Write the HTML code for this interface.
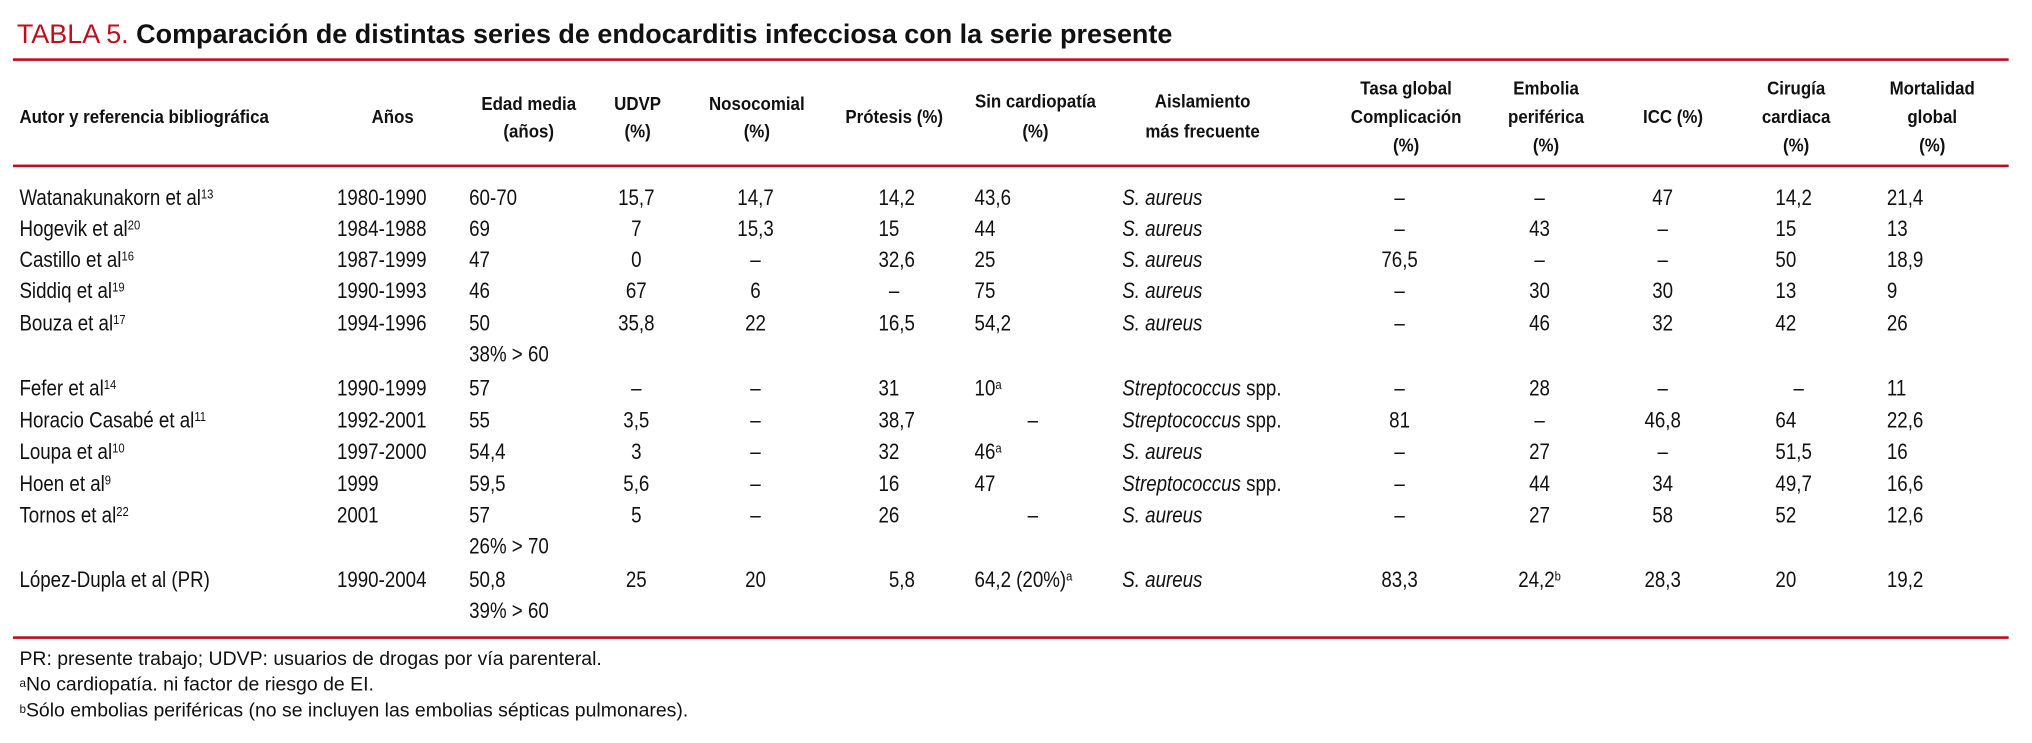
<!DOCTYPE html>
<html><head><meta charset="utf-8">
<style>
html,body{margin:0;padding:0;background:#fff;}
body{width:2032px;height:743px;overflow:hidden;position:relative;}
#stage{position:absolute;left:0;top:0;width:1568px;height:573px;transform:scale(1.29592);transform-origin:0 0;font-family:"Liberation Sans",sans-serif;color:#111;}
.c{position:absolute;white-space:nowrap;line-height:20px;height:20px;}
.c span.t{display:inline-block;}
.al span.t{transform-origin:0 50%;transform:scaleX(.85);}
.ac{transform:translateX(-50%);}
.ac span.t{transform-origin:50% 50%;transform:scaleX(.85);}
.ar{transform:translateX(-100%);}
.ar span.t{transform-origin:100% 50%;transform:scaleX(.85);}
.d{font-size:17px;}
.h{font-size:14px;font-weight:bold;}
.c.h span.t{transform:scaleX(.93);}
.f{font-size:15px;}
.c.f span.t{transform:scaleX(1);}
sup{font-size:60%;vertical-align:top;position:relative;top:-2px;}
.rule{position:absolute;left:10px;width:1540px;height:2.4px;background:#c00d1e;}
#title{position:absolute;left:13px;top:14px;font-size:21px;white-space:nowrap;transform-origin:0 0;transform:scaleX(.99);line-height:26px;}
#title .red{color:#c00d1e;}
#title b{color:#111;}
.hid{visibility:hidden;}
</style></head>
<body>
<div id="stage">
  <div id="title"><span class="red">TABLA 5.</span> <b>Comparación de distintas series de endocarditis infecciosa con la serie presente</b></div>
  <div class="rule" style="top:45px"></div>
  <div class="rule" style="top:127px"></div>
  <div class="rule" style="top:491px"></div>
</div>
<script>
const stage=document.getElementById('stage');
function place(html,x,y,align,cls,name){
  const d=document.createElement('div');
  d.className='c '+cls+' '+align;
  d.style.left=x+'px';
  d.style.top=(y-10)+'px';
  d.innerHTML='<span class="t">'+html+'</span>';
  
  
  stage.appendChild(d);
  return d;
}
const headers=[
 [["Autor y referencia bibliográfica"],15,'al',[90]],
 [["Años"],303,'ac',[90]],
 [["Edad media","(años)"],408,'ac',[80,101]],
 [["UDVP","(%)"],492,'ac',[80,101]],
 [["Nosocomial","(%)"],584,'ac',[80,101]],
 [["Prótesis (%)"],690,'ac',[90]],
 [["Sin cardiopatía","(%)"],799,'ac',[78,101]],
 [["Aislamiento","más frecuente"],928,'ac',[78,101]],
 [["Tasa global","Complicación","(%)"],1085,'ac',[68,90,112]],
 [["Embolia","periférica","(%)"],1193,'ac',[68,90,112]],
 [["ICC (%)"],1291,'ac',[90]],
 [["Cirugía","cardiaca","(%)"],1386,'ac',[68,90,112]],
 [["Mortalidad","global","(%)"],1491,'ac',[68,90,112]]
];
headers.forEach((h,i)=>{h[0].forEach((ln,j)=>{
  place(ln,h[1],h[3][j],h[2],'h','column-header-'+i+'-line-'+j);
});});

const authors=["Watanakunakorn et al","Hogevik et al","Castillo et al","Siddiq et al","Bouza et al","Fefer et al","Horacio Casabé et al","Loupa et al","Hoen et al","Tornos et al","López-Dupla et al (PR)"];
const refs=["13","20","16","19","17","14","11","10","9","22",""];
const years=["1980-1990","1984-1988","1987-1999","1990-1993","1994-1996","1990-1999","1992-2001","1997-2000","1999","2001","1990-2004"];
const ages=["60-70","69","47","46","50","57","55","54,4","59,5","57","50,8"];
const ageExtra=["","","","","38% > 60","","","","","26% > 70","39% > 60"];
const udvp=["15,7","7","0","67","35,8","–","3,5","3","5,6","5","25"];
const noso=["14,7","15,3","–","6","22","–","–","–","–","–","20"];
const protesis=["14,2","15","32,6","–","16,5","31","38,7","32","16","26","5,8"];
const sincard=["43,6","44","25","75","54,2","10^a","–","46^a","47","–","64,2 (20%)^a"];
const aisl=["S. aureus","S. aureus","S. aureus","S. aureus","S. aureus","Streptococcus spp.","Streptococcus spp.","S. aureus","Streptococcus spp.","S. aureus","S. aureus"];
const tasa=["–","–","76,5","–","–","–","81","–","–","–","83,3"];
const embolia=["–","43","–","30","46","28","–","27","44","27","24,2^b"];
const icc=["47","–","–","30","32","–","46,8","–","34","58","28,3"];
const cirugia=["14,2","15","50","13","42","–","64","51,5","49,7","52","20"];
const mort=["21,4","13","18,9","9","26","11","22,6","16","16,6","12,6","19,2"];
const rowY=[153,177,201,225,250,300,325,349,374,398,448];
const extraY=[0,0,0,0,274,0,0,0,0,422,472];

function sup(s){return s.replace(/\^([ab])/,'<sup>$1</sup>');}
function org(s){
  if(s.indexOf('Streptococcus')===0) return '<i>Streptococcus</i> spp.';
  return '<i>'+s+'</i>';
}
for(let r=0;r<authors.length;r++){
  const y=rowY[r];
  place(authors[r]+(refs[r]?'<sup>'+refs[r]+'</sup>':''),15,y,'al','d','author-'+r);
  place(years[r],260,y,'al','d','years-'+r);
  place(ages[r],362,y,'al','d','age-'+r);
  if(ageExtra[r]) place(ageExtra[r],362,extraY[r],'al','d','age-note-'+r);
  place(udvp[r],491,y,'ac','d','udvp-'+r);
  place(noso[r],583,y,'ac','d','nosocomial-'+r);
  const p=protesis[r];
  place(p+(p.indexOf(',')<0?'<span class="hid">,0</span>':''),706,y,'ar','d','protesis-'+r);
  if(sincard[r]==='–') place('–',797,y,'ac','d','sin-cardiopatia-'+r);
  else place(sup(sincard[r]),752,y,'al','d','sin-cardiopatia-'+r);
  place(org(aisl[r]),866,y,'al','d','organism-'+r);
  place(tasa[r],1080,y,'ac','d','complication-rate-'+r);
  place(sup(embolia[r]),1188,y,'ac','d','embolism-'+r);
  place(icc[r],1283,y,'ac','d','icc-'+r);
  if(cirugia[r]==='–') place('–',1388,y,'ac','d','surgery-'+r);
  else place(cirugia[r],1370,y,'al','d','surgery-'+r);
  place(mort[r],1456,y,'al','d','mortality-'+r);
}
place('PR: presente trabajo; UDVP: usuarios de drogas por vía parenteral.',15,509,'al','f','footnote-abbrev');
place('<sup>a</sup>No cardiopatía. ni factor de riesgo de EI.',15,529,'al','f','footnote-a');
place('<sup>b</sup>Sólo embolias periféricas (no se incluyen las embolias sépticas pulmonares).',15,549,'al','f','footnote-b');
</script>
</body></html>
